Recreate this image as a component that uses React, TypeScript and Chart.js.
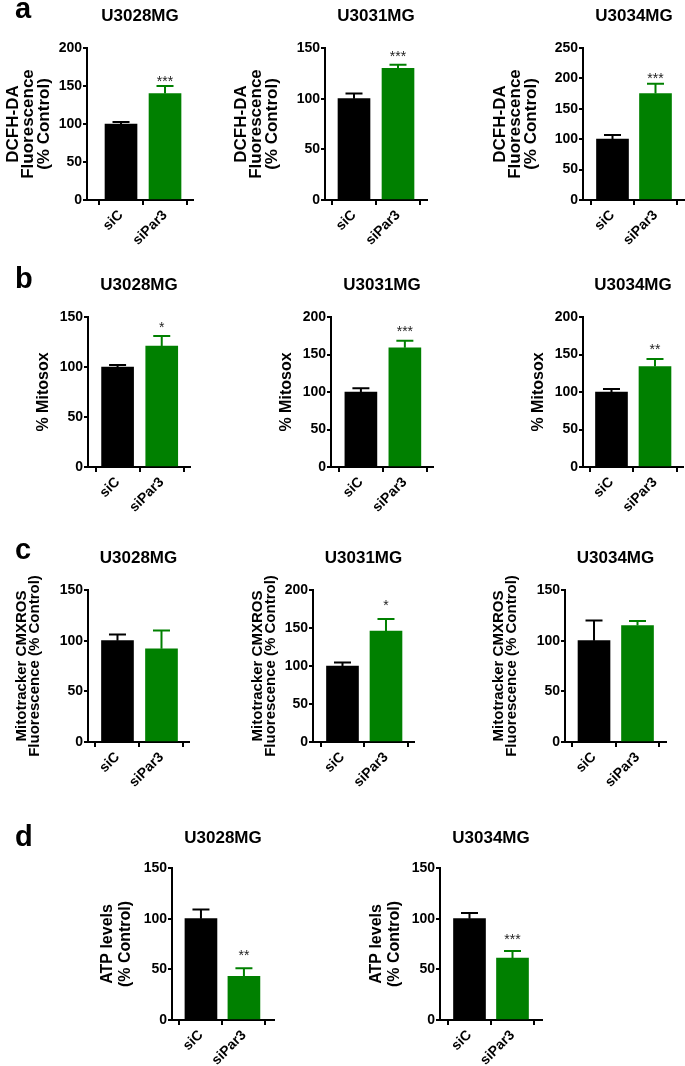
import React, { useEffect, useRef } from 'react';
import { Chart, registerables } from 'chart.js';

Chart.register(...registerables);

const FONT = '"Liberation Sans", Arial, Helvetica, sans-serif';
const BAR_COLORS = ['#000000', '#008000'];

// ---------- data ----------
const categories = ['siC', 'siPar3'];

// a: DCFH-DA fluorescence (% control)
const dcfhU3028 = [100, 140];
const dcfhU3028Err = [2.5, 10];
const dcfhU3031 = [100, 130];
const dcfhU3031Err = [5, 3.5];
const dcfhU3034 = [100, 175];
const dcfhU3034Err = [7, 16];

// b: % Mitosox
const mitosoxU3028 = [100, 121];
const mitosoxU3028Err = [2, 10];
const mitosoxU3031 = [100, 159];
const mitosoxU3031Err = [5, 9.5];
const mitosoxU3034 = [100, 134];
const mitosoxU3034Err = [4, 10];

// c: Mitotracker CMXROS fluorescence (% control)
const cmxrosU3028 = [100, 92];
const cmxrosU3028Err = [6, 18];
const cmxrosU3031 = [100, 146];
const cmxrosU3031Err = [4.5, 16];
const cmxrosU3034 = [100, 115];
const cmxrosU3034Err = [20, 4.5];

// d: ATP levels (% control)
const atpU3028 = [100, 43];
const atpU3028Err = [9, 8];
const atpU3034 = [100, 61];
const atpU3034Err = [5.5, 7];

// significance marks (text, value level at which they sit)
const sigText = ['***', '***', '***', '*', '***', '**', '', '*', '', '**', '***'];
const sigLevel = [160, 145, 205, 143, 185, 161, 0, 184, 0, 67, 83];

// y-axis maxima
const yMaxima = [200, 150, 250, 150, 200, 200, 150, 200, 150, 150, 150];

// ---------- layout ----------
type Panel = {
  key: string;
  title: string;
  yTitle: string[];
  yTitleSize: number;
  yTitleLH: number;
  values: number[];
  errors: number[];
  sig: string;
  sigAt: number;
  yMax: number;
  left: number;
  axisX: number;
  xEnd: number;
  titleCenter: number;
  yTop: number;
  yZero: number;
  xMin: number;
  xMax: number;
};

const dcfhTitle = ['DCFH-DA', 'Fluorescence', '(% Control)'];
const mitoTitle = ['% Mitosox'];
const cmxTitle = ['Mitotracker CMXROS', 'Fluorescence (% Control)'];
const atpTitle = ['ATP levels', '(% Control)'];

const rowA = { titleCenter: 16, yTop: 48, yZero: 200 };
const rowB = { titleCenter: 285, yTop: 317, yZero: 467 };
const rowC = { titleCenter: 558, yTop: 590, yZero: 742 };
const rowD = { titleCenter: 838.5, yTop: 868, yZero: 1020 };

const styleA = { yTitle: dcfhTitle, yTitleSize: 17, yTitleLH: 0.92 };
const styleB = { yTitle: mitoTitle, yTitleSize: 16, yTitleLH: 1.2 };
const styleC = { yTitle: cmxTitle, yTitleSize: 15, yTitleLH: 0.9 };
const styleD = { yTitle: atpTitle, yTitleSize: 16, yTitleLH: 1.1 };

const panels: Panel[] = [
  { key: 'a1', title: 'U3028MG', ...styleA, values: dcfhU3028, errors: dcfhU3028Err, sig: sigText[0], sigAt: sigLevel[0], yMax: yMaxima[0], left: 5, axisX: 87, xEnd: 193, xMin: -0.773, xMax: 1.636, ...rowA },
  { key: 'a2', title: 'U3031MG', ...styleA, values: dcfhU3031, errors: dcfhU3031Err, sig: sigText[1], sigAt: sigLevel[1], yMax: yMaxima[1], left: 233, axisX: 325, xEnd: 427, xMin: -0.659, xMax: 1.659, ...rowA },
  { key: 'a3', title: 'U3034MG', ...styleA, values: dcfhU3034, errors: dcfhU3034Err, sig: sigText[2], sigAt: sigLevel[2], yMax: yMaxima[2], left: 492, axisX: 583, xEnd: 685, xMin: -0.686, xMax: 1.686, ...rowA },
  { key: 'b1', title: 'U3028MG', ...styleB, values: mitosoxU3028, errors: mitosoxU3028Err, sig: sigText[3], sigAt: sigLevel[3], yMax: yMaxima[3], left: 34, axisX: 88, xEnd: 190, xMin: -0.67, xMax: 1.64, ...rowB },
  { key: 'b2', title: 'U3031MG', ...styleB, values: mitosoxU3031, errors: mitosoxU3031Err, sig: sigText[4], sigAt: sigLevel[4], yMax: yMaxima[4], left: 277, axisX: 331, xEnd: 433, xMin: -0.68, xMax: 1.64, ...rowB },
  { key: 'b3', title: 'U3034MG', ...styleB, values: mitosoxU3034, errors: mitosoxU3034Err, sig: sigText[5], sigAt: sigLevel[5], yMax: yMaxima[5], left: 529, axisX: 583, xEnd: 683, xMin: -0.655, xMax: 1.644, ...rowB },
  { key: 'c1', title: 'U3028MG', ...styleC, values: cmxrosU3028, errors: cmxrosU3028Err, sig: sigText[6], sigAt: sigLevel[6], yMax: yMaxima[6], left: 15, axisX: 88, xEnd: 189, xMin: -0.67, xMax: 1.625, ...rowC },
  { key: 'c2', title: 'U3031MG', ...styleC, values: cmxrosU3031, errors: cmxrosU3031Err, sig: sigText[7], sigAt: sigLevel[7], yMax: yMaxima[7], left: 251, axisX: 313, xEnd: 414, xMin: -0.678, xMax: 1.644, ...rowC },
  { key: 'c3', title: 'U3034MG', ...styleC, values: cmxrosU3034, errors: cmxrosU3034Err, sig: sigText[8], sigAt: sigLevel[8], yMax: yMaxima[8], left: 492, axisX: 565, xEnd: 666, xMin: -0.667, xMax: 1.655, ...rowC },
  { key: 'd1', title: 'U3028MG', ...styleD, values: atpU3028, errors: atpU3028Err, sig: sigText[9], sigAt: sigLevel[9], yMax: yMaxima[9], left: 99, axisX: 172, xEnd: 274, xMin: -0.674, xMax: 1.7, ...rowD },
  { key: 'd2', title: 'U3034MG', ...styleD, values: atpU3034, errors: atpU3034Err, sig: sigText[10], sigAt: sigLevel[10], yMax: yMaxima[10], left: 368, axisX: 440, xEnd: 542, xMin: -0.686, xMax: 1.686, ...rowD },
];

const panelLetters = [
  { text: 'a', left: 15, top: -6 },
  { text: 'b', left: 15, top: 264 },
  { text: 'c', left: 15, top: 535 },
  { text: 'd', left: 15, top: 822 },
];

const TITLE_SIZE = 17;
const TITLE_LH = 1.2;
const X_AXIS_H = 62;
const RIGHT_PAD = 8;

function geometry(p: Panel) {
  const top = Math.round(p.titleCenter - (TITLE_SIZE * TITLE_LH) / 2);
  const height = p.yZero - top + X_AXIS_H;
  const width = p.xEnd - p.left + RIGHT_PAD;
  return { top, height, width };
}

function errorPlugin(p: Panel) {
  return {
    id: 'errorBars',
    afterDatasetsDraw(chart: any) {
      const ctx = chart.ctx;
      const y = chart.scales.y;
      const meta = chart.getDatasetMeta(0);
      meta.data.forEach((bar: any, i: number) => {
        const base = y.getPixelForValue(p.values[i]);
        const top = y.getPixelForValue(p.values[i] + p.errors[i]);
        ctx.save();
        ctx.strokeStyle = BAR_COLORS[i];
        ctx.lineWidth = 2;
        ctx.beginPath();
        ctx.moveTo(bar.x, base);
        ctx.lineTo(bar.x, top);
        ctx.moveTo(bar.x - 8.5, top);
        ctx.lineTo(bar.x + 8.5, top);
        ctx.stroke();
        if (i === 1 && p.sig) {
          ctx.font = `14px ${FONT}`;
          ctx.fillStyle = '#222';
          ctx.textAlign = 'center';
          ctx.textBaseline = 'alphabetic';
          ctx.fillText(p.sig, bar.x, y.getPixelForValue(p.sigAt) + 8);
        }
        ctx.restore();
      });
    },
  };
}

function ChartPanel({ p }: { p: Panel }) {
  const ref = useRef<HTMLCanvasElement>(null);
  const g = geometry(p);

  useEffect(() => {
    if (!ref.current) return;
    const titleBottomPad = p.yTop - g.top - TITLE_SIZE * TITLE_LH;
    const axisFont = { family: FONT, size: 14, weight: 'bold' as const };
    const borderOpts = { display: true, color: '#000', width: 2 };
    const chart = new Chart(ref.current, {
      type: 'bar',
      data: {
        datasets: [
          {
            data: p.values.map((v, i) => ({ x: i, y: v })),
            backgroundColor: BAR_COLORS,
            borderWidth: 0,
            barThickness: 32,
          },
        ],
      },
      options: {
        animation: false,
        responsive: false,
        devicePixelRatio: 1,
        layout: { padding: { top: 0, left: 0, right: RIGHT_PAD, bottom: 0 } },
        plugins: {
          legend: { display: false },
          tooltip: { enabled: false },
          title: {
            display: true,
            text: p.title,
            fullSize: false,
            color: '#000',
            font: { family: FONT, size: TITLE_SIZE, weight: 'bold', lineHeight: TITLE_LH },
            padding: { top: 0, bottom: titleBottomPad },
          },
        },
        scales: {
          x: {
            type: 'linear',
            min: p.xMin,
            max: p.xMax,
            offset: false,
            afterBuildTicks: (s: any) => {
              s.ticks = categories.map((_, i) => ({ value: i }));
            },
            afterFit: (s: any) => {
              s.height = X_AXIS_H;
            },
            ticks: {
              autoSkip: false,
              minRotation: 45,
              maxRotation: 45,
              padding: 2,
              color: '#000',
              font: axisFont,
              callback: (v: any) => categories[v as number] ?? '',
            },
            grid: { drawOnChartArea: false, drawTicks: true, tickLength: 5, color: '#000', lineWidth: 2 },
            border: borderOpts,
          },
          y: {
            min: 0,
            max: p.yMax,
            afterFit: (s: any) => {
              s.width = p.axisX - p.left;
            },
            ticks: { stepSize: 50, padding: 1, color: '#000', font: axisFont },
            title: {
              display: true,
              text: p.yTitle,
              color: '#000',
              padding: 0,
              font: { family: FONT, size: p.yTitleSize, weight: 'bold', lineHeight: p.yTitleLH },
            },
            grid: { drawOnChartArea: false, drawTicks: true, tickLength: 4, color: '#000', lineWidth: 2 },
            border: borderOpts,
          },
        },
      } as any,
      plugins: [errorPlugin(p)],
    });
    return () => chart.destroy();
  }, []);

  return (
    <canvas
      ref={ref}
      width={g.width}
      height={g.height}
      style={{ position: 'absolute', left: p.left, top: g.top, width: g.width, height: g.height }}
    />
  );
}

export default function App() {
  return (
    <div
      style={{
        position: 'absolute',
        left: 0,
        top: 0,
        width: 685,
        height: 1066,
        overflow: 'hidden',
        background: '#fff',
        fontFamily: FONT,
      }}
    >
      {panels.map((p) => (
        <ChartPanel key={p.key} p={p} />
      ))}
      {panelLetters.map((l) => (
        <div
          key={l.text}
          style={{
            position: 'absolute',
            left: l.left,
            top: l.top,
            fontSize: 29,
            lineHeight: '29px',
            fontWeight: 'bold',
            color: '#000',
          }}
        >
          {l.text}
        </div>
      ))}
    </div>
  );
}
